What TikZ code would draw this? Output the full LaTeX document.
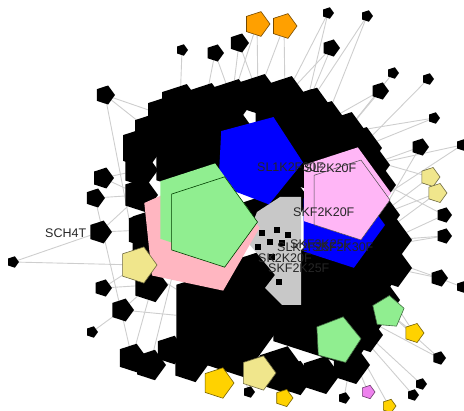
\documentclass[tikz,border=0pt]{standalone}
\usepackage{fontspec}
\setmainfont{Liberation Sans}
\usetikzlibrary{shapes.geometric}
\usetikzlibrary{backgrounds}

\definecolor{linkgray}{RGB}{206,206,206}
\definecolor{clustergray}{RGB}{200,200,200}
\definecolor{plum}{RGB}{255,182,246}
\definecolor{rosepink}{RGB}{255,182,193}
\definecolor{mint}{RGB}{144,238,144}
\definecolor{khakiA}{RGB}{240,230,140}
\definecolor{goldA}{RGB}{255,210,0}
\definecolor{orangeA}{RGB}{255,160,0}
\definecolor{violetA}{RGB}{238,130,238}
\definecolor{blueA}{RGB}{0,0,255}

\begin{document}
\begin{tikzpicture}[x=1pt, y=-1pt,
    pent/.style={regular polygon, regular polygon sides=5, shape border rotate=-90, inner sep=0pt, outer sep=0pt},
    hub/.style={pent, fill=black},
    leaf/.style={pent, fill=black},
    flat/.style={pent, fill=#1},
    gene/.style={pent, fill=#1, draw=#1!45!black, line width=0.6pt},
    spot/.style={regular polygon, regular polygon sides=4, fill=black, inner sep=0pt, minimum size=9},
    link/.style={draw=linkgray, line width=0.9pt},
    tag/.style={text=black!85, font=\fontsize{12.5}{14}\selectfont, inner sep=0pt, anchor=west}]
  \useasboundingbox (0,0) rectangle (464,411);

  % big hubs in the middle
  \foreach \n/\x/\y/\d in {h1/205/145/120, h2/300/140/110, h3/330/300/140, h4/225/320/120,
      h5/165/240/80, h6/360/250/80, h7/280/370/50, h8/262/285/80, h9/288/200/44,
      h10/258/212/34}
    \node[hub, minimum size=\d] (\n) at (\x,\y) {};

  % ring of hubs round the rim
  \foreach \n/\x/\y/\d in {r1/141/148/44, r2/153/133/44, r3/166/116/44, r4/180/105/44,
      r5/205/104/44, r6/232/100/44, r7/258/95/44, r8/285/97/44, r9/305/110/44,
      r10/325/122/44, r11/345/133/44, r12/360/148/44, r13/370/165/40, r14/378/185/36,
      r15/380/215/40, r16/390/240/44, r17/392/268/40, r18/375/280/40, r19/365/335/36,
      r20/350/365/40, r21/320/375/40, r22/295/378/36, r23/265/370/36, r24/190/365/36,
      r25/150/365/32, r26/132/358/30, r27/170/350/30, r28/150/285/36, r29/145/230/40,
      r30/140/195/36, r31/140/170/36}
    \node[hub, minimum size=\d] (\n) at (\x,\y) {};

  % leaves
  \foreach \n/\x/\y/\d in {l1/182/50/12, l2/215/53/18, l3/239/43/20, l4/105/95/20,
      l5/103/178/22, l6/95/198/20, l7/328/13/12, l8/367/16/12, l9/331/48/18,
      l10/393/73/12, l11/380/91/18, l12/428/79/12, l13/434/118/12, l14/420/147/18,
      l15/462/145/12, l16/444/215/16, l17/444/236/16, l18/439/278/18, l19/462/287/12,
      l20/439/358/14, l21/421/384/12, l22/413/395/12, l23/344/398/12, l24/249/392/12,
      l25/13/262/12, l26/100/232/24, l27/103/288/18, l28/122/310/24, l29/92/332/12}
    \node[leaf, minimum size=\d] (\n) at (\x,\y) {};

  % grey cluster and its small nodes
  \fill[clustergray] (280,197) -- (301,197) -- (301,305) -- (282,305) -- (265,288)
    -- (275,275) -- (250,245) -- (250,230) -- (257,212) -- cycle;
  \foreach \n/\x/\y in {s1/262/233, s2/277/230, s3/288/235, s4/270/242,
      s5/282/243, s6/258/247, s7/272/257, s8/279/282}
    \node[spot] (\n) at (\x,\y) {};

  % coloured nodes
  \node[gene=orangeA, minimum size=26] (o1) at (257,24) {};
  \node[gene=orangeA, minimum size=26] (o2) at (284,26) {};
  \node[flat=blueA, minimum size=92, shape border rotate=-21] (b1) at (257,160) {};
  \node[flat=blueA, minimum size=90] (b2) at (340,225) {};
  \node[flat=plum, minimum size=96] (p1) at (343,193) {};
  \node[pent, fill=plum, draw=black!70, line width=0.5pt, minimum size=84] (p2) at (348,200) {};
  \node[flat=rosepink, minimum size=124, shape border rotate=-84] (pk) at (198,234) {};
  \node[flat=mint, minimum size=98] (g1) at (200,210) {};
  \node[pent, fill=mint, draw=black!75!green, line width=0.6pt, minimum size=95] (g2) at (210,222) {};
  \node[gene=khakiA, minimum size=38] (kl) at (138,265) {};
  \node[gene=khakiA, minimum size=36] (kb) at (258,373) {};
  \node[gene=khakiA, minimum size=20] (kr1) at (430,177) {};
  \node[gene=khakiA, minimum size=20] (kr2) at (437,193) {};
  \node[gene=goldA, minimum size=32] (au1) at (218,383) {};
  \node[gene=goldA, minimum size=18] (au2) at (284,398) {};
  \node[gene=goldA, minimum size=20] (au3) at (414,333) {};
  \node[gene=goldA, minimum size=14] (au4) at (389,406) {};
  \node[gene=violetA, minimum size=14] (vi) at (368,392) {};
  \node[gene=mint, minimum size=33, shape border rotate=-5] (gs) at (388,312) {};
  \node[gene=mint, minimum size=48, shape border rotate=-15] (gb) at (337,340) {};

  % edges go under everything
  \begin{scope}[on background layer]
    \foreach \a/\b in {l1/r4, l2/r5, l2/r6, l3/r6, l3/r7, o1/r7, o1/r6, o2/r7, o2/r8,
        l7/r9, l7/r8, l8/r9, l8/r10, l9/r9, l9/r8, l10/r11, l11/r10, l11/r11, l12/r12,
        l13/r12, l13/h2, l14/r13, l14/h6, l15/r13, l15/b2, kr1/h2, kr1/r15, kr2/h6,
        kr2/r15, l16/r16, l16/h2, l17/h6, l17/r16, l18/h6, l18/r17, l19/l18, l20/h3,
        l20/gs, l21/h3, l22/h3, au3/gs, au3/h6, au4/h3, vi/h3, l23/r20, l24/h4,
        au2/h7, gb/h3, gs/h6, l4/r2, l4/r3, l4/kl, l5/r31, l5/r30, l6/r30, l6/r26,
        l25/kl, l25/l26, l26/r29, l26/r30, l27/r28, l27/kl, l28/r28, l28/h4, l29/l28,
        r25/h1, r26/h5, kl/h4, kl/h3, au1/h4}
      \draw[link] (\a) -- (\b);
  \end{scope}

  % labels
  \node[tag] (t1) at (45,233) {SCH4T};
  \node[tag] (t2) at (257,167) {SL1K2F30F};
  \node[tag] (t3) at (304,168) {SL2K20F};
  \node[tag] (t4) at (293,212) {SKF2K20F};
  \node[tag] (t5) at (277,247) {SLK2F25F};
  \node[tag] (t6) at (290,244) {SKF3K25F};
  \node[tag] (t7) at (312,247) {SKF2K30F};
  \node[tag] (t8) at (258,258) {SK2K20F};
  \node[tag] (t9) at (268,268) {SKF2K25F};
\end{tikzpicture}
\end{document}
